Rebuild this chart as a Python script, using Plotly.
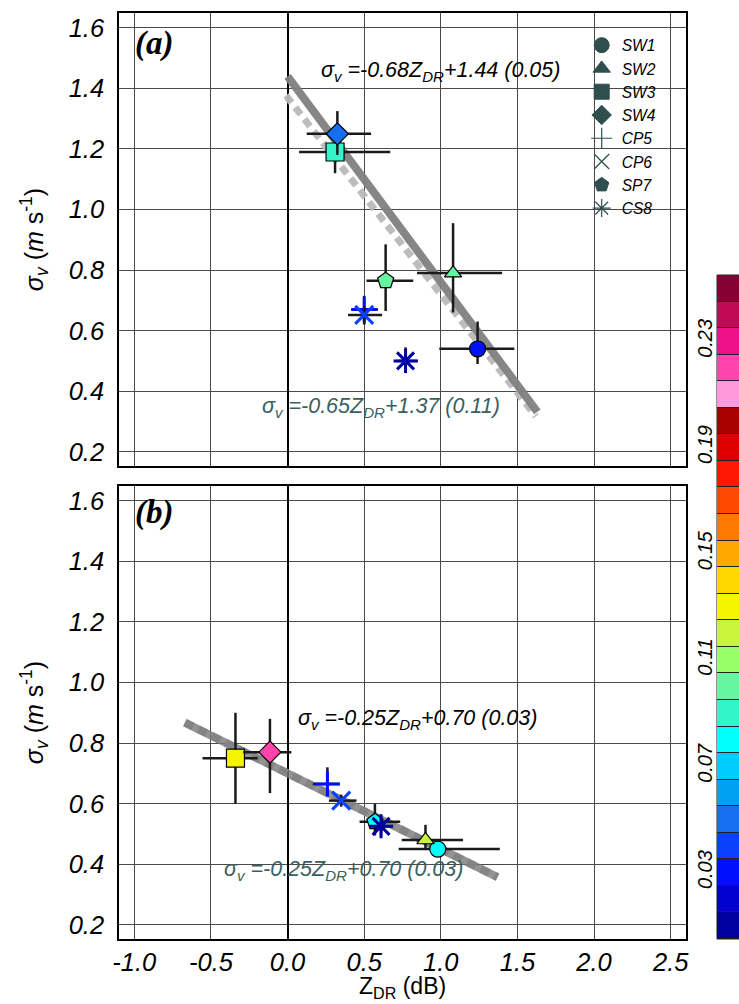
import plotly.graph_objects as go

# ---------------- data ----------------
STATIONS = ["SW1", "SW2", "SW3", "SW4", "CP5", "CP6", "SP7", "CS8"]
SYMBOLS = ["circle", "triangle-up", "square", "diamond",
           "cross-thin-open", "x-thin-open", "pentagon", "asterisk-open"]
SIZES = [16, 15, 18, 17, 18, 18, 17, 20]

# panel (a)
A_X = [1.24, 1.08, 0.31, 0.325, 0.50, 0.50, 0.64, 0.77]
A_Y = [0.54, 0.79, 1.19, 1.25, 0.67, 0.652, 0.765, 0.50]
A_XM = [0.25, 0.235, 0.235, 0.20, 0.085, 0.105, 0.125, 0.06]
A_XP = [0.24, 0.32, 0.36, 0.22, 0.09, 0.117, 0.18, 0.08]
A_YM = [0.05, 0.13, 0.07, 0.07, 0.05, 0.03, 0.10, 0.04]
A_YP = [0.09, 0.165, 0.06, 0.075, 0.045, 0.03, 0.12, 0.045]
A_C = [0.03, 0.10, 0.09, 0.05, 0.03, 0.04, 0.10, 0.01]

# panel (b)
B_X = [0.98, 0.90, -0.34, -0.115, 0.26, 0.35, 0.57, 0.61]
B_Y = [0.45, 0.48, 0.75, 0.77, 0.665, 0.61, 0.54, 0.525]
B_XM = [0.255, 0.155, 0.215, 0.175, 0.095, 0.08, 0.10, 0.05]
B_XP = [0.405, 0.245, 0.145, 0.14, 0.07, 0.10, 0.165, 0.05]
B_YM = [0.02, 0.03, 0.15, 0.135, 0.04, 0.02, 0.045, 0.03]
B_YP = [0.02, 0.05, 0.15, 0.11, 0.055, 0.02, 0.06, 0.03]
B_C = [0.08, 0.12, 0.13, 0.22, 0.03, 0.04, 0.08, 0.01]

# regression lines: slope, intercept, x-start, x-end
FIT_A_SOLID = (-0.68, 1.44, 0.0, 1.63)
FIT_A_DASH = (-0.65, 1.37, -0.01, 1.62)
FIT_B_SOLID = (-0.25, 0.70, -0.67, 1.37)
FIT_B_DASH = (-0.25, 0.70, -0.67, 1.37)

EQ_A_SOLID = "<i>σ<sub>v</sub> =-0.68Z<sub>DR</sub>+1.44 (0.05)</i>"
EQ_A_DASH = "<i>σ<sub>v</sub> =-0.65Z<sub>DR</sub>+1.37 (0.11)</i>"
EQ_B_SOLID = "<i>σ<sub>v</sub> =-0.25Z<sub>DR</sub>+0.70 (0.03)</i>"
EQ_B_DASH = "<i>σ<sub>v</sub> =-0.25Z<sub>DR</sub>+0.70 (0.03)</i>"
X_TITLE = "Z<sub>DR</sub> (dB)"
Y_TITLE = "<i>σ<sub>v</sub></i> (<i>m</i> s<sup>-1</sup>)"

# colorbar bins
CB_VALUES = [0.01, 0.02, 0.03, 0.04, 0.05, 0.06, 0.07, 0.08, 0.09, 0.10,
             0.11, 0.12, 0.13, 0.14, 0.15, 0.16, 0.17, 0.18, 0.19, 0.20,
             0.21, 0.22, 0.23, 0.24, 0.25]
CB_COLORS = ["#00009E", "#0000D0", "#0010FF", "#0A40FF", "#1470F0",
             "#00A0F5", "#00CCFF", "#00FFFF", "#33F5CC", "#66F5A0",
             "#99FF66", "#C8F53A", "#F5F500", "#FFD800", "#FFA800",
             "#FF7800", "#FF4800", "#FF1800", "#DD0000", "#A80000",
             "#FF99DD", "#FF44AA", "#EE1188", "#C00A55", "#880033"]
CB_TICKS = [0.03, 0.07, 0.11, 0.15, 0.19, 0.23]
CB_MIN, CB_MAX = 0.005, 0.255

X_TICKS = [-1.0, -0.5, 0.0, 0.5, 1.0, 1.5, 2.0, 2.5]
Y_TICKS = [0.2, 0.4, 0.6, 0.8, 1.0, 1.2, 1.4, 1.6]

# ---------------- styling ----------------
n = len(CB_COLORS)
SCALE = []
for i, c in enumerate(CB_COLORS):
    SCALE.append([i / n, c])
    SCALE.append([(i + 1) / n, c])

FONT = "Liberation Sans, Arial, sans-serif"
SLATE = "#3A5F5F"
LEGEND_COLOR = "#2F4F4F"

fig = go.Figure()


def add_fit(fit, xa, ya, color, width, dash):
    m, b, x0, x1 = fit
    xs = [x0, x1]
    fig.add_trace(go.Scatter(x=xs, y=[m * x + b for x in xs], mode="lines",
                             line=dict(color=color, width=width, dash=dash),
                             xaxis=xa, yaxis=ya, showlegend=False, hoverinfo="skip"))


add_fit(FIT_A_DASH, "x", "y", "rgba(185,185,185,0.95)", 7, "9px,6px")
add_fit(FIT_A_SOLID, "x", "y", "rgba(128,128,128,0.95)", 8, "solid")
add_fit(FIT_B_DASH, "x2", "y2", "rgba(175,175,175,0.95)", 8, "9px,6px")
add_fit(FIT_B_SOLID, "x2", "y2", "rgba(120,120,120,0.80)", 8, "solid")


def add_points(X, Y, XM, XP, YM, YP, C, xa, ya):
    for i in range(len(STATIONS)):
        sym = SYMBOLS[i]
        is_line = sym.endswith("-open")
        if is_line:
            marker = dict(symbol=sym, size=SIZES[i], color=[C[i]], colorscale=SCALE,
                          cmin=CB_MIN, cmax=CB_MAX, line=dict(width=3))
        else:
            marker = dict(symbol=sym, size=SIZES[i], color=[C[i]], colorscale=SCALE,
                          cmin=CB_MIN, cmax=CB_MAX, line=dict(color="black", width=1.2))
        fig.add_trace(go.Scatter(
            x=[X[i]], y=[Y[i]], mode="markers", marker=marker,
            error_x=dict(type="data", symmetric=False, array=[XP[i]], arrayminus=[XM[i]],
                         color="#1a1a1a", thickness=2.5, width=0),
            error_y=dict(type="data", symmetric=False, array=[YP[i]], arrayminus=[YM[i]],
                         color="#1a1a1a", thickness=2.5, width=0),
            xaxis=xa, yaxis=ya, showlegend=False, name=STATIONS[i]))


add_points(A_X, A_Y, A_XM, A_XP, A_YM, A_YP, A_C, "x", "y")
add_points(B_X, B_Y, B_XM, B_XP, B_YM, B_YP, B_C, "x2", "y2")

# legend entries
for i, s in enumerate(STATIONS):
    sym = SYMBOLS[i]
    if sym.endswith("-open"):
        mk = dict(symbol=sym, size=15, color=LEGEND_COLOR, line=dict(width=1.2))
    else:
        mk = dict(symbol=sym, size=15, color=LEGEND_COLOR, line=dict(color=LEGEND_COLOR, width=1))
    fig.add_trace(go.Scatter(x=[None], y=[None], mode="markers", marker=mk, name=s,
                             xaxis="x", yaxis="y", showlegend=True))

# colorbar as heatmap
fig.add_trace(go.Heatmap(x=[0], y=CB_VALUES, z=[[v] for v in CB_VALUES],
                         colorscale=SCALE, zmin=CB_MIN, zmax=CB_MAX, showscale=False,
                         ygap=1, xaxis="x3", yaxis="y3", hoverinfo="skip"))

# ---------------- layout ----------------
L, R, T, B = 119, 0, 13, 65
W, H = 739, 1004
pw = W - L - R
ph = H - T - B
xdom = [0, 567 / pw]
a_dom = [(939 - 466) / ph, 1.0]
b_dom = [0.0, (939 - 486) / ph]
cb_dom_x = [(717 - L) / pw, 1.0]
cb_dom_y = [0.0, (939 - 275) / ph]

tickfont = dict(family=FONT, size=25.5, color="black", style="italic")
common_x = dict(range=[-1.1, 2.6], tickvals=X_TICKS, ticktext=[f"{v:.1f}" for v in X_TICKS],
                showgrid=True, gridcolor="#4a4a4a", gridwidth=1,
                zeroline=True, zerolinecolor="black", zerolinewidth=1.6,
                showline=True, linecolor="black", linewidth=1.6, mirror=True, ticks="",
                tickfont=tickfont, domain=xdom, ticklabelstandoff=0, automargin=False)
common_y = dict(range=[0.153, 1.649], tickvals=Y_TICKS, ticktext=[f"{v:.1f}" for v in Y_TICKS],
                showgrid=True, gridcolor="#4a4a4a", gridwidth=1, zeroline=False,
                showline=True, linecolor="black", linewidth=1.6, mirror=True, ticks="",
                tickfont=tickfont, ticklabelstandoff=8, automargin=False,
                title=dict(text=Y_TITLE,
                           font=dict(family=FONT, size=25, color="black"), standoff=18))

fig.update_layout(
    width=W, height=H, margin=dict(l=L, r=R, t=T, b=B, autoexpand=False),
    paper_bgcolor="white", plot_bgcolor="white",
    xaxis=dict(common_x, anchor="y", showticklabels=False),
    yaxis=dict(common_y, domain=a_dom, anchor="x"),
    xaxis2=dict(common_x, anchor="y2"),
    yaxis2=dict(common_y, domain=b_dom, anchor="x2"),
    xaxis3=dict(domain=cb_dom_x, anchor="y3", range=[-0.5, 0.5], visible=False),
    yaxis3=dict(domain=cb_dom_y, anchor="x3", range=[CB_MIN, CB_MAX], side="left",
                tickvals=CB_TICKS, ticktext=[f"{v:.2f}" for v in CB_TICKS],
                tickangle=-90, showgrid=False, zeroline=False, ticks="",
                showline=False, automargin=False,
                tickfont=dict(family=FONT, size=20, color="black", style="italic")),
    legend=dict(x=(581.7 - L) / pw, y=(939 - 28.5) / ph, xanchor="left", yanchor="top",
                bgcolor="rgba(0,0,0,0)", borderwidth=0, itemsizing="trace",
                font=dict(family=FONT, size=15.6, color="black", style="italic"),
                tracegroupgap=0),
    shapes=[dict(type="rect", xref="x3 domain", yref="y3 domain", x0=0, x1=1, y0=0, y1=1,
                 fillcolor="#222222", line=dict(width=1, color="#222222"), layer="below")],
)

ann = []
ann.append(dict(text=X_TITLE, xref="x2 domain", yref="paper", x=0.5, y=(939 - 1003) / ph,
                xanchor="center", yanchor="bottom", showarrow=False, borderpad=0,
                font=dict(family=FONT, size=23, color="black")))
ann.append(dict(text="<b><i>(a)</i></b>", xref="x domain", yref="y domain",
                x=(133 - L) / 567, y=(466 - 43) / 453, xanchor="left", yanchor="middle",
                showarrow=False, font=dict(family="Liberation Serif, Times New Roman, serif",
                                           size=33, color="black")))
ann.append(dict(text="<b><i>(b)</i></b>", xref="x2 domain", yref="y2 domain",
                x=(133 - L) / 567, y=(939 - 513) / 453, xanchor="left", yanchor="middle",
                showarrow=False, font=dict(family="Liberation Serif, Times New Roman, serif",
                                           size=33, color="black")))
eqfont_k = dict(family=FONT, size=21.5, color="black")
eqfont_s = dict(family=FONT, size=21.5, color=SLATE)
ann.append(dict(text=EQ_A_SOLID, xref="x", yref="y", x=0.204, y=1.457, xanchor="left",
                yanchor="middle", showarrow=False, font=eqfont_k))
ann.append(dict(text=EQ_A_DASH, xref="x", yref="y", x=-0.18, y=0.345, xanchor="left",
                yanchor="middle", showarrow=False, font=eqfont_s))
ann.append(dict(text=EQ_B_SOLID, xref="x2", yref="y2", x=0.054, y=0.879, xanchor="left",
                yanchor="middle", showarrow=False, font=eqfont_k))
ann.append(dict(text=EQ_B_DASH, xref="x2", yref="y2", x=-0.428, y=0.380, xanchor="left",
                yanchor="middle", showarrow=False, font=eqfont_s))
fig.update_layout(annotations=ann)

fig.write_html("out.html")
